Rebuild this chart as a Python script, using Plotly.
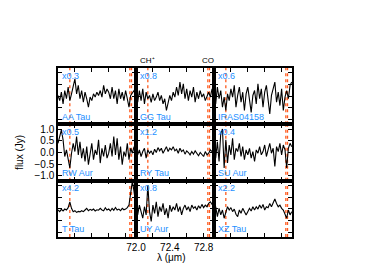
import plotly.graph_objects as go
from plotly.subplots import make_subplots

wavelength = [72.00, 72.02, 72.04, 72.06, 72.08, 72.10, 72.12, 72.14, 72.16, 72.18,
              72.20, 72.22, 72.24, 72.26, 72.28, 72.30, 72.32, 72.34, 72.36, 72.38,
              72.40, 72.42, 72.44, 72.46, 72.48, 72.50, 72.52, 72.54, 72.56, 72.58,
              72.60, 72.62, 72.64, 72.66, 72.68, 72.70, 72.72, 72.74, 72.76, 72.78,
              72.80, 72.82, 72.84, 72.86, 72.88, 72.90, 72.92]

names = ["AA Tau", "GG Tau", "IRAS04158", "RW Aur", "RY Tau", "SU Aur", "T Tau", "UY Aur", "XZ Tau"]
scales = ["x0.3", "x0.8", "x0.6", "x0.5", "x1.2", "x0.4", "x4.2", "x0.8", "x2.2"]

aa_tau = [0.03, -0.19, 0.17, -0.33, 0.24, -0.11, 0.39, -0.19, 0.10, 0.39,
          0.74, 0.10, 0.46, -0.11, 0.24, -0.26, 0.17, -0.11, -0.47, -0.04,
          -0.19, 0.10, -0.04, 0.17, 0.03, 0.24, -0.04, 0.46, 0.10, 0.31,
          0.17, -0.11, 0.39, -0.11, 0.24, -0.33, 0.31, -0.11, 0.17, -0.19,
          0.24, -0.11, -0.47, 0.03, 0.17, 0.24, 0.10]
gg_tau = [0.03, -0.26, 0.24, -0.19, 0.31, -0.33, 0.17, -0.11, 0.03, -0.26,
          0.10, -0.19, -0.04, 0.17, -0.19, 0.03, -0.33, -0.11, -0.61, -0.33,
          0.03, -0.19, 0.17, -0.04, 0.39, 0.03, 0.60, 0.10, 0.53, -0.11,
          0.31, -0.19, 0.24, -0.04, 0.39, -0.26, 0.17, -0.11, 0.24, -0.04,
          0.10, -0.19, 0.03, 0.17, -0.04, 0.31, 0.10]
iras04158 = [0.53, -0.33, 0.39, -0.11, 0.24, -0.47, -0.04, -0.61, 0.10, -0.19,
             0.31, -0.04, 0.46, -0.47, 0.03, 0.39, -0.26, 0.17, -0.61, 0.10,
             0.39, -0.19, -0.69, 0.03, 0.24, -0.33, 0.53, -0.11, 0.31, -0.47,
             0.17, 0.46, -0.19, -0.76, 0.03, 0.39, 0.60, -0.26, 0.17, -0.40,
             0.31, -0.61, -0.04, 0.24, -0.11, 0.46, 0.60]
rw_aur = [0.39, 0.68, 0.96, 0.54, -0.17, 0.11, -0.31, -0.66, -0.03, 0.39,
          0.04, 0.68, -0.10, 0.46, -0.24, 0.18, -0.38, 0.25, -0.52, 0.04,
          0.39, -0.31, 0.11, -0.10, 0.54, -0.45, 0.18, -0.17, 0.32, -0.24,
          -0.03, 0.39, -0.17, 0.68, -0.10, 0.61, -0.31, 0.25, -0.52, 0.04,
          -0.17, 0.39, -0.31, 0.18, -0.03, 0.25, 0.11]
ry_tau = [0.04, -0.10, 0.11, -0.17, 0.04, 0.18, -0.24, 0.11, -0.03, 0.07,
          -0.10, 0.14, 0.00, 0.21, 0.07, 0.18, -0.03, 0.11, 0.25, 0.04,
          0.18, 0.11, 0.25, 0.07, 0.14, -0.03, 0.18, 0.04, 0.11, -0.07,
          0.07, 0.00, -0.10, 0.04, -0.07, 0.07, -0.03, -0.14, 0.00, -0.07,
          -0.17, 0.04, -0.10, -0.03, 0.11, 0.04, 0.14]
su_aur = [0.25, -0.24, 0.46, -0.38, 0.82, 1.00, -0.66, 0.54, -0.45, 0.32,
          -0.10, 0.61, -0.31, 0.18, 0.04, 0.39, -0.17, 0.25, -0.31, 0.11,
          -0.10, 0.18, -0.24, 0.04, -0.38, 0.11, -0.03, 0.25, -0.10, 0.04,
          0.32, -0.17, 0.11, 0.39, -0.03, 0.18, -0.59, 0.25, 0.04, 0.39,
          -0.10, 0.32, 0.11, -0.66, 0.18, 0.39, 0.25]
t_tau = [-0.05, -0.12, -0.02, -0.09, -0.01, -0.05, 0.05, 0.30, 0.02, -0.12,
         -0.08, -0.15, -0.11, -0.13, -0.08, -0.12, -0.05, 0.02, -0.08, -0.02,
         -0.06, -0.01, -0.09, -0.04, -0.06, 0.02, -0.05, -0.08, 0.05, -0.05,
         -0.01, -0.09, 0.02, -0.06, 0.06, -0.05, -0.01, -0.08, 0.02, -0.04,
         -0.01, 0.05, 0.16, 0.80, 1.18, 0.73, 0.16]
uy_aur = [-0.05, -0.26, 0.16, -0.12, -0.40, 0.09, -0.26, 1.01, -0.12, -0.54,
          0.16, -0.19, 0.30, -0.33, 0.09, -0.12, 0.23, -0.26, 0.02, -0.40,
          0.16, -0.12, 0.09, -0.05, 0.23, -0.12, 0.09, -0.26, 0.02, 0.16,
          -0.05, 0.09, -0.12, 0.16, 0.02, 0.09, -0.05, 0.13, 0.02, 0.19,
          0.05, 0.16, 0.09, 0.23, 0.30, 0.19, 0.27]
xz_tau = [-0.12, 0.09, -0.33, 0.02, -0.26, -0.05, -0.40, -0.12, 0.09, -0.05,
          0.05, -0.12, -0.01, -0.23, -0.33, -0.05, -0.19, 0.02, -0.12, -0.26,
          -0.12, 0.02, -0.09, 0.09, -0.05, 0.09, -0.01, 0.16, 0.02, 0.19,
          -0.05, 0.09, 0.05, 0.23, 0.09, 0.27, 0.42, 0.23, 0.09, 0.16,
          0.02, -0.05, -0.19, -0.40, -0.05, -0.26, -0.12]

spectra = [aa_tau, gg_tau, iras04158, rw_aur, ry_tau, su_aur, t_tau, uy_aur, xz_tau]

ch_plus = [72.14]
co_lines = [72.85, 72.87]
x_major_ticks = [72.0, 72.4, 72.8]
x_minor_ticks = [72.2, 72.6]
y_ticks = [-1.0, -0.5, 0.0, 0.5, 1.0]

BLUE = "#1E90FF"
RED = "#FF5A1E"
FONT = "Liberation Sans, Arial, sans-serif"

fig = make_subplots(rows=3, cols=3, horizontal_spacing=0, vertical_spacing=0)

for k, spec in enumerate(spectra):
    r, c = k // 3 + 1, k % 3 + 1
    fig.add_trace(go.Scatter(x=wavelength, y=spec, mode="lines",
                             line=dict(color="black", width=1.1),
                             showlegend=False, hoverinfo="skip"), row=r, col=c)
    for lam in ch_plus + co_lines:
        fig.add_vline(x=lam, row=r, col=c,
                      line=dict(color=RED, width=1.3, dash="dot"), layer="below")
    sfx = "" if k == 0 else str(k + 1)
    fig.add_annotation(text=scales[k], xref=f"x{sfx} domain", yref=f"y{sfx} domain",
                       x=0.03, y=0.99, xanchor="left", yanchor="top", showarrow=False,
                       font=dict(color=BLUE, size=9, family=FONT))
    fig.add_annotation(text=names[k], xref=f"x{sfx} domain", yref=f"y{sfx} domain",
                       x=0.03, y=0.01, xanchor="left", yanchor="bottom", showarrow=False,
                       font=dict(color=BLUE, size=9, family=FONT))
    fig.update_xaxes(row=r, col=c, range=[72.0, 72.923], tickmode="array",
                     tickvals=x_major_ticks, tickformat=".1f",
                     ticks="inside", ticklen=4, tickwidth=1, tickcolor="black",
                     minor=dict(tickmode="array", tickvals=x_minor_ticks, ticks="inside",
                                ticklen=4, tickwidth=1, tickcolor="black", showgrid=False),
                     showline=True, linecolor="black", linewidth=1.5,
                     mirror="ticks", showgrid=False, zeroline=False,
                     showticklabels=(r == 3 and c == 2))
    fig.update_yaxes(row=r, col=c, range=[-1.2, 1.2], tickvals=y_ticks,
                     tickformat=".1f", ticks="inside", ticklen=4, tickwidth=1,
                     tickcolor="black", showline=True, linecolor="black", linewidth=1.5,
                     mirror="ticks", showgrid=False, zeroline=False,
                     showticklabels=(r == 2 and c == 1))

fig.add_annotation(text="CH⁺", xref="x2", yref="paper", x=ch_plus[0], y=1.0,
                   yanchor="bottom", yshift=1, showarrow=False,
                   font=dict(color="black", size=8, family=FONT))
fig.add_annotation(text="CO", xref="x2", yref="paper", x=co_lines[0], y=1.0,
                   yanchor="bottom", yshift=1, showarrow=False,
                   font=dict(color="black", size=8, family=FONT))
fig.add_annotation(text="λ (μm)", xref="paper", yref="paper", x=0.487, y=0,
                   yanchor="top", yshift=-13, showarrow=False,
                   font=dict(color="black", size=10, family=FONT))
fig.add_annotation(text="flux (Jy)", xref="paper", yref="paper", x=-0.197, y=0.5,
                   textangle=-90, showarrow=False,
                   font=dict(color="black", size=10, family=FONT))

fig.update_layout(width=382, height=271, margin=dict(l=50, r=98, t=60, b=42),
                  paper_bgcolor="white", plot_bgcolor="white",
                  font=dict(family=FONT, size=10, color="black"))

fig.write_html("out.html")
